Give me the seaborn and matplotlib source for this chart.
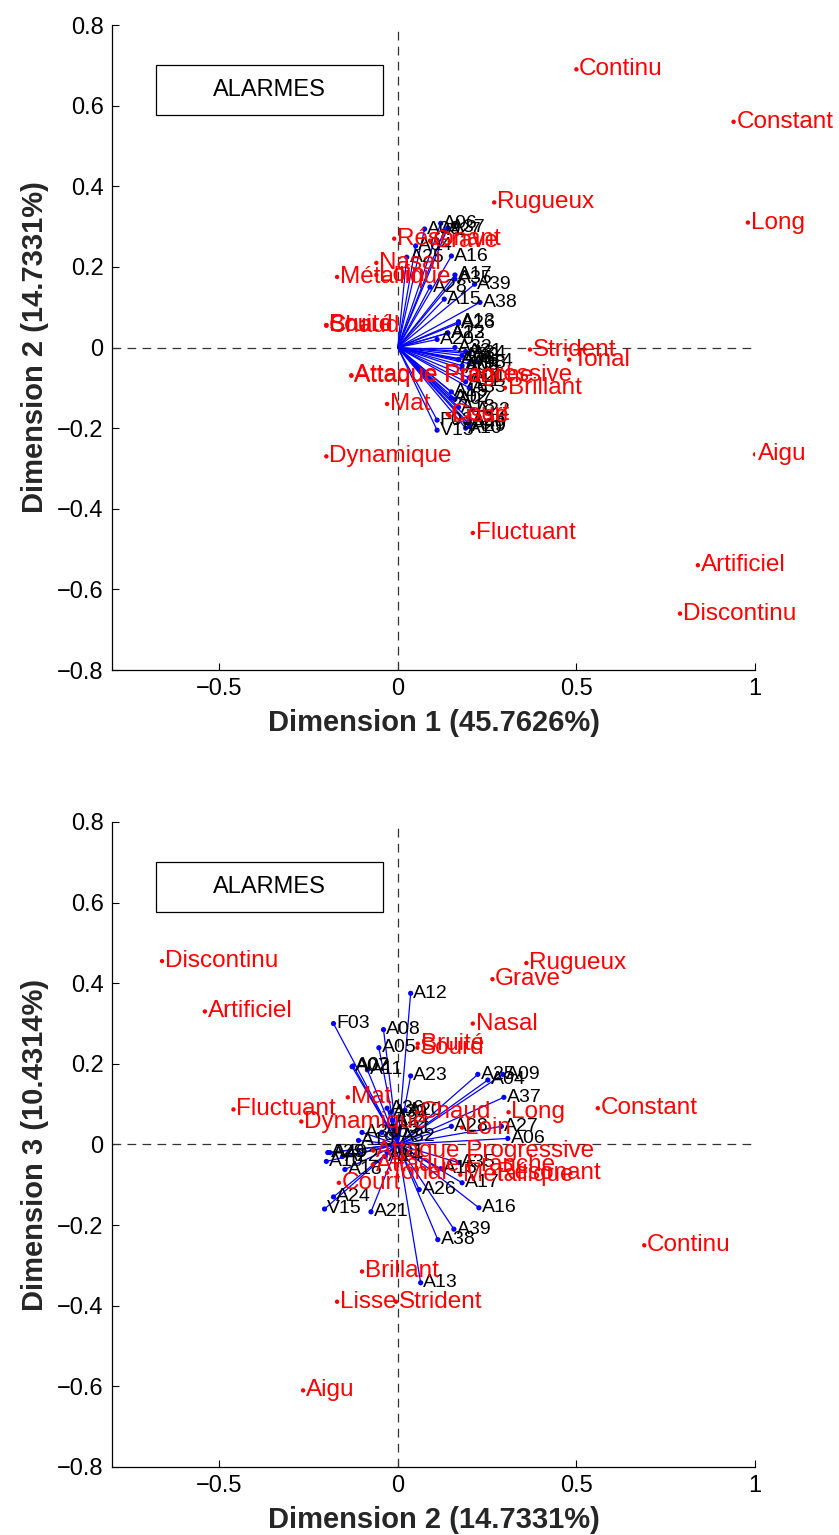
import numpy as np
import pandas as pd
import matplotlib
matplotlib.use('Agg')
import matplotlib.pyplot as plt
import seaborn as sns
from matplotlib.patches import Rectangle
from matplotlib.ticker import FuncFormatter

# ---------------- data ----------------
desc_names = ['Continu', 'Constant', 'Rugueux', 'Long', 'Résonant', 'Grave', 'Nasal',
              'Métallique', 'Loin', 'Sourd', 'Bruité', 'Chaud', 'Strident', 'Tonal',
              'Attaque Franche', 'Attaque Progressive', 'Brillant', 'Mat', 'Lisse', 'Court',
              'Dynamique', 'Aigu', 'Fluctuant', 'Artificiel', 'Discontinu']
desc_d1 = [0.50, 0.94, 0.27, 0.98, -0.01, 0.09, -0.06,
           -0.17, -0.06, -0.20, -0.20, -0.20, 0.37, 0.48,
           -0.13, -0.13, 0.30, -0.03, 0.145, 0.14,
           -0.20, 1.00, 0.21, 0.84, 0.79]
desc_d2 = [0.69, 0.56, 0.36, 0.31, 0.27, 0.265, 0.21,
           0.175, 0.18, 0.055, 0.056, 0.054, -0.005, -0.03,
           -0.07, -0.069, -0.10, -0.14, -0.17, -0.165,
           -0.27, -0.265, -0.46, -0.54, -0.66]
desc_d3 = [-0.25, 0.09, 0.45, 0.08, -0.07, 0.41, 0.30,
           -0.075, 0.042, 0.24, 0.25, 0.08, -0.39, -0.07,
           -0.05, -0.015, -0.315, 0.117, -0.39, -0.095,
           0.057, -0.61, 0.087, 0.33, 0.455]

ind_names = ['A01', 'A02', 'A03', 'A04', 'A05', 'A06', 'A07', 'A08', 'A09', 'A10',
             'A11', 'A12', 'A13', 'A14', 'A15', 'A16', 'A17', 'A18', 'A19', 'A20',
             'A21', 'A22', 'A23', 'A24', 'A25', 'A26', 'A27', 'A28', 'A29', 'A30',
             'A31', 'A32', 'A33', 'A34', 'A35', 'A36', 'A37', 'A38', 'A39', 'A40',
             'F03', 'V15']
ind_d1 = [0.17, 0.15, 0.18, 0.05, 0.18, 0.12, 0.16, 0.20, 0.075, 0.19,
          0.19, 0.14, 0.17, 0.22, 0.13, 0.15, 0.16, 0.17, 0.15, 0.11,
          0.20, 0.21, 0.14, 0.20, 0.025, 0.17, 0.13, 0.09, 0.20, 0.18,
          0.19, 0.16, 0.20, 0.20, 0.16, 0.17, 0.14, 0.23, 0.215, 0.20,
          0.11, 0.11]
ind_d2 = [-0.03, -0.125, -0.045, 0.252, -0.053, 0.308, -0.128, -0.04, 0.294, -0.20,
          -0.085, 0.036, 0.064, -0.035, 0.12, 0.227, 0.18, -0.148, -0.11, 0.02,
          -0.075, -0.155, 0.036, -0.18, 0.224, 0.06, 0.29, 0.15, -0.196, -0.02,
          -0.01, 0.0, -0.10, -0.015, 0.17, -0.03, 0.297, 0.112, 0.157, -0.19,
          -0.18, -0.205]
ind_d3 = [-0.02, 0.195, 0.03, 0.16, 0.24, 0.015, 0.193, 0.285, 0.174, -0.042,
          0.185, 0.375, -0.343, -0.03, -0.06, -0.157, -0.095, -0.062, 0.01, 0.085,
          -0.167, -0.03, 0.17, -0.13, 0.174, -0.112, 0.045, 0.045, -0.02, 0.08,
          0.04, 0.02, 0.03, 0.06, -0.045, 0.09, 0.117, -0.236, -0.21, -0.02,
          0.30, -0.16]

x_ticks = [-0.5, 0, 0.5, 1]
y_ticks = [-0.8, -0.6, -0.4, -0.2, 0, 0.2, 0.4, 0.6, 0.8]
box_title = 'ALARMES'
labels_top = ('Dimension 1 (45.7626%)', 'Dimension 2 (14.7331%)')
labels_bot = ('Dimension 2 (14.7331%)', 'Dimension 3 (10.4314%)')

# ---------------- style ----------------
sns.set_style('white')
plt.rcParams['font.family'] = ['Liberation Sans', 'DejaVu Sans']
plt.rcParams['axes.unicode_minus'] = True

fig = plt.figure(figsize=(8.39, 15.35), dpi=100)
ax1 = fig.add_axes([0.1335, 0.5635, 0.7664, 0.4202])
ax2 = fig.add_axes([0.1335, 0.0443, 0.7664, 0.4202])


def fmt(v, pos):
    s = '%g' % v
    return s.replace('-', '\u2212')


def panel(ax, ix, iy, dx, dy, xlabel, ylabel):
    ax.axhline(0, color='#333333', lw=0.9, ls=(0, (7, 5)), zorder=1)
    ax.axvline(0, color='#333333', lw=0.9, ls=(0, (7, 5)), zorder=1)

    rows = []
    for n, x, y in zip(ind_names, ix, iy):
        rows.append((n, 0.0, 0.0, 0))
        rows.append((n, x, y, 1))
    dfl = pd.DataFrame(rows, columns=['name', 'x', 'y', 'o'])
    sns.lineplot(data=dfl, x='x', y='y', units='name', estimator=None, sort=False,
                 color='blue', lw=0.9, ax=ax, zorder=2, legend=False)
    dfi = pd.DataFrame({'name': ind_names, 'x': ix, 'y': iy})
    sns.scatterplot(data=dfi, x='x', y='y', color='blue', s=14, edgecolor='none',
                    ax=ax, zorder=3, legend=False)
    for n, x, y in zip(ind_names, ix, iy):
        ax.annotate(n, (x, y), xytext=(2, 0), textcoords='offset points',
                    ha='left', va='center', fontsize=14, color='black', zorder=4)

    dfd = pd.DataFrame({'name': desc_names, 'x': dx, 'y': dy})
    sns.scatterplot(data=dfd, x='x', y='y', color='red', s=10, edgecolor='none',
                    ax=ax, zorder=5, legend=False)
    for n, x, y in zip(desc_names, dx, dy):
        ax.annotate(n, (x, y), xytext=(2, 0), textcoords='offset points',
                    ha='left', va='center', fontsize=17.5, color='red', zorder=6)

    ax.set_xlim(-0.8, 1.0)
    ax.set_ylim(-0.8, 0.8)
    ax.set_xticks(x_ticks)
    ax.set_yticks(y_ticks)
    ax.xaxis.set_major_formatter(FuncFormatter(fmt))
    ax.yaxis.set_major_formatter(FuncFormatter(fmt))
    ax.tick_params(direction='in', length=5, width=0.8, labelsize=17,
                   top=False, right=False, left=True, bottom=True, pad=6, colors='black')
    for s in ['top', 'right']:
        ax.spines[s].set_visible(False)
    for s in ['left', 'bottom']:
        ax.spines[s].set_color('black')
        ax.spines[s].set_linewidth(0.9)
    ax.set_xlabel(xlabel, fontsize=21, fontweight='bold', labelpad=6)
    ax.set_ylabel(ylabel, fontsize=21, fontweight='bold', labelpad=6)

    ax.add_patch(Rectangle((0.068, 0.8605), 0.353, 0.0775, transform=ax.transAxes,
                           facecolor='white', edgecolor='black', lw=0.9, zorder=7))
    ax.text(0.245, 0.899, box_title, transform=ax.transAxes, ha='center', va='center',
            fontsize=17, color='black', zorder=8)


panel(ax1, ind_d1, ind_d2, desc_d1, desc_d2, *labels_top)
panel(ax2, ind_d2, ind_d3, desc_d2, desc_d3, *labels_bot)

fig.savefig('out.png', dpi=100, facecolor='white')
